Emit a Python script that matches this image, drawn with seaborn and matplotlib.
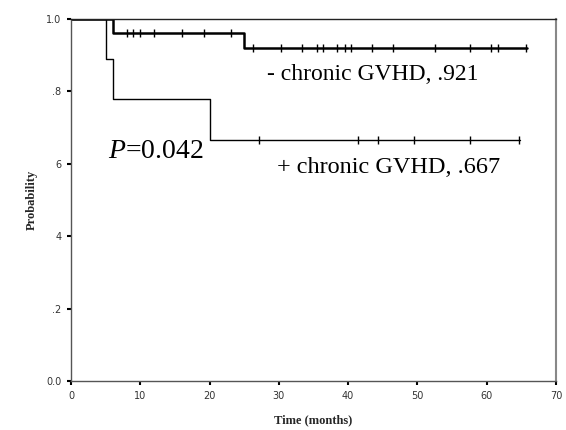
import numpy as np
import pandas as pd
import matplotlib
matplotlib.use('Agg')
import matplotlib.pyplot as plt
import seaborn as sns

# Kaplan-Meier steps (months, survival probability)
neg_times = [0, 6, 25, 65.8]
neg_surv = [1.0, 0.962, 0.921, 0.921]
neg_censor = [8.1, 9.0, 10.0, 12.0, 16.0, 19.2, 23.1, 26.2, 30.3, 33.3, 35.5,
              36.3, 38.4, 39.5, 40.4, 43.5, 46.5, 52.5, 57.6, 60.6, 61.6, 65.7]

pos_times = [0, 5, 6, 20, 64.8]
pos_surv = [1.0, 0.889, 0.778, 0.667, 0.667]
pos_censor = [27.1, 41.4, 44.3, 49.5, 57.6, 64.7]

x_ticks = [0, 10, 20, 30, 40, 50, 60, 70]
y_ticks = [0.0, 0.2, 0.4, 0.6, 0.8, 1.0]
y_tick_labels = ['0.0', '.2', '4', '6', '.8', '1.0']


def surv_at(t, times, surv):
    idx = np.searchsorted(times, t, side='right') - 1
    return surv[idx]


sns.set_style('white')
plt.rcParams['font.family'] = ['Liberation Serif', 'DejaVu Serif']
plt.rcParams['mathtext.fontset'] = 'custom'
plt.rcParams['mathtext.it'] = 'Liberation Serif:italic'
plt.rcParams['mathtext.rm'] = 'Liberation Serif'
plt.rcParams['text.color'] = 'black'

neg_df = pd.DataFrame({'t': neg_times, 's': neg_surv})
pos_df = pd.DataFrame({'t': pos_times, 's': pos_surv})
neg_c = pd.DataFrame({'t': neg_censor,
                      's': [surv_at(t, neg_times, neg_surv) for t in neg_censor]})
pos_c = pd.DataFrame({'t': pos_censor,
                      's': [surv_at(t, pos_times, pos_surv) for t in pos_censor]})

fig = plt.figure(figsize=(5.66, 4.30), dpi=100)
ax = fig.add_axes([71 / 566, 1 - 381 / 430, 485 / 566, 362 / 430])

sns.lineplot(data=pos_df, x='t', y='s', drawstyle='steps-post', estimator=None,
             color='black', lw=1.0, ax=ax)
sns.lineplot(data=neg_df, x='t', y='s', drawstyle='steps-post', estimator=None,
             color='black', lw=1.8, ax=ax)
ax.plot(pos_c['t'], pos_c['s'], ls='none', marker='|', ms=5.5, mew=1.0, color='black')
ax.plot(neg_c['t'], neg_c['s'], ls='none', marker='|', ms=5.5, mew=1.0, color='black')

ax.set_xlim(0, 70)
ax.set_ylim(0, 1)
ax.set_xticks(x_ticks)
ax.set_xticklabels([str(v) for v in x_ticks], family='DejaVu Sans', fontsize=7,
                   color='#333333')
ax.set_yticks(y_ticks)
ax.set_yticklabels(y_tick_labels, family='DejaVu Sans', fontsize=7, color='#333333')
ax.tick_params(axis='both', direction='out', length=3, width=1.5, color='black',
               bottom=True, left=True, pad=4)

for side in ['left', 'bottom']:
    ax.spines[side].set_color('#555555')
    ax.spines[side].set_linewidth(1.0)
ax.spines['top'].set_color('#222222')
ax.spines['top'].set_linewidth(1.0)
ax.spines['right'].set_color('#888888')
ax.spines['right'].set_linewidth(1.5)

ax.set_xlabel('Time (months)', fontsize=9, fontweight='bold', labelpad=10)
ax.set_ylabel('Probability', fontsize=9, fontweight='bold', labelpad=6)

ax.text(28.3, 0.848, '- chronic GVHD, .921', fontsize=17, va='center', ha='left')
ax.text(29.7, 0.59, '+ chronic GVHD, .667', fontsize=17.5, va='center', ha='left')
ax.text(5.3, 0.634, r'$P$=0.042', fontsize=20, va='center', ha='left')

fig.savefig('out.png', dpi=100)
